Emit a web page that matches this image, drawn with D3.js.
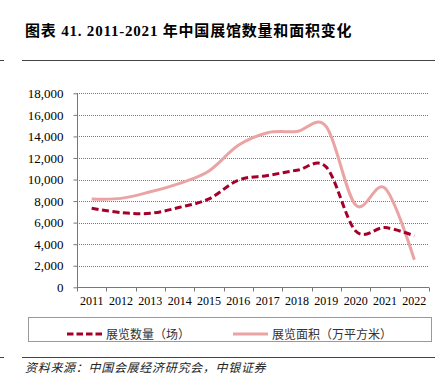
<!DOCTYPE html>
<html><head><meta charset="utf-8">
<script src="https://cdn.jsdelivr.net/npm/d3@7"></script>
<style>html,body{margin:0;padding:0;background:#fff;}svg{display:block;}</style>
</head><body>
<script>
const years = ["2011","2012","2013","2014","2015","2016","2017","2018","2019","2020","2021","2022"];
const countValues = [7330, 6930, 6870, 7420, 8200, 9940, 10370, 10860, 11150, 5230, 5540, 4770];
const areaValues = [8200, 8250, 8860, 9650, 10800, 13170, 14340, 14460, 14900, 7630, 9200, 2550];
const yTicks = [0, 2000, 4000, 6000, 8000, 10000, 12000, 14000, 16000, 18000];
const titleText = "图表 41. 2011-2021 年中国展馆数量和面积变化";
const seriesNames = ["展览数量（场）", "展览面积（万平方米）"];
const sourceText = "资料来源：中国会展经济研究会，中银证券";

const W = 445, H = 385;
const svg = d3.select("body").append("svg").attr("width", W).attr("height", H);
const serif = "'Liberation Serif','Times New Roman','Noto Sans CJK SC',serif";
const cjk = "'Noto Sans CJK SC','Liberation Serif',sans-serif";

// Title
svg.append("text").attr("x", 25).attr("y", 36).attr("font-family", serif)
  .attr("font-weight", "bold").attr("font-size", 15).attr("letter-spacing", 0.8)
  .attr("fill", "#000").text(titleText);
// rules
svg.append("line").attr("x1", 22).attr("x2", 435).attr("y1", 60.5).attr("y2", 60.5).attr("stroke", "#444").attr("stroke-width", 1);
svg.append("line").attr("x1", 0).attr("x2", 4).attr("y1", 60.5).attr("y2", 60.5).attr("stroke", "#444").attr("stroke-width", 1);
svg.append("line").attr("x1", 22).attr("x2", 435).attr("y1", 357.5).attr("y2", 357.5).attr("stroke", "#444").attr("stroke-width", 1);
svg.append("line").attr("x1", 0).attr("x2", 4).attr("y1", 357.5).attr("y2", 357.5).attr("stroke", "#444").attr("stroke-width", 1);

const x = d3.scaleBand().domain(years).range([77, 429]).padding(0);
const y = d3.scaleLinear().domain([0, 18000]).range([287.3, 93.3]);

// gridlines
svg.append("g").selectAll("line").data(yTicks.filter(d => d > 0)).join("line")
  .attr("x1", 77).attr("x2", 429)
  .attr("y1", d => Math.round(y(d)) + 0.5).attr("y2", d => Math.round(y(d)) + 0.5)
  .attr("stroke", "#7a7a7a").attr("stroke-width", 1).attr("stroke-dasharray", "1,1");

// y axis
const yAxis = svg.append("g").attr("transform", "translate(77.5,0)")
  .call(d3.axisLeft(y).tickValues(yTicks).tickSize(4).tickPadding(10).tickFormat(d3.format(",")));
yAxis.selectAll("text").attr("font-family", serif).attr("font-size", 13).attr("fill", "#000");
yAxis.selectAll("line").attr("stroke", "#777");
yAxis.select(".domain").attr("stroke", "#777").attr("d", `M0,${y(0)}V${y(18000)}`);

// x axis
const xAxis = svg.append("g").attr("transform", `translate(0,${Math.round(y(0)) + 0.5})`)
  .call(d3.axisBottom(x).tickSize(0).tickPadding(9));
xAxis.selectAll("text").attr("font-family", serif).attr("font-size", 12).attr("fill", "#000");
xAxis.select(".domain").attr("stroke", "#777").attr("d", "M77,0H429");
xAxis.append("g").selectAll("line").data(years.map(d => x(d)).concat([429])).join("line")
  .attr("x1", d => Math.round(d) + 0.5).attr("x2", d => Math.round(d) + 0.5)
  .attr("y1", 0).attr("y2", 4).attr("stroke", "#777");

const cx = d => x(d) + x.bandwidth() / 2;
const line = d3.line().curve(d3.curveCardinal.tension(0)).x((d, i) => cx(years[i])).y(d => y(d));

const pink = "#eba4a4", red = "#a5002a";
svg.append("path").datum(areaValues).attr("d", line).attr("fill", "none")
  .attr("stroke", pink).attr("stroke-width", 3);
svg.append("path").datum(countValues).attr("d", line).attr("fill", "none")
  .attr("stroke", red).attr("stroke-width", 3).attr("stroke-dasharray", "7,3.5");

// legend
svg.append("rect").attr("x", 28.5).attr("y", 317.5).attr("width", 403).attr("height", 24)
  .attr("fill", "none").attr("stroke", "#999");
svg.append("line").attr("x1", 67).attr("x2", 102).attr("y1", 334).attr("y2", 334)
  .attr("stroke", red).attr("stroke-width", 3).attr("stroke-dasharray", "6.5,3");
svg.append("text").attr("x", 106).attr("y", 338.5).attr("font-family", cjk).attr("font-size", 12)
  .attr("fill", "#333").text(seriesNames[0]);
svg.append("line").attr("x1", 233).attr("x2", 268).attr("y1", 334).attr("y2", 334)
  .attr("stroke", pink).attr("stroke-width", 3);
svg.append("text").attr("x", 272).attr("y", 338.5).attr("font-family", cjk).attr("font-size", 12)
  .attr("fill", "#333").text(seriesNames[1]);

// source
svg.append("text").attr("x", 25).attr("y", 372).attr("font-family", cjk).attr("font-size", 12)
  .attr("font-style", "italic").attr("letter-spacing", 0.7).attr("fill", "#222").text(sourceText);
</script>
</body></html>
